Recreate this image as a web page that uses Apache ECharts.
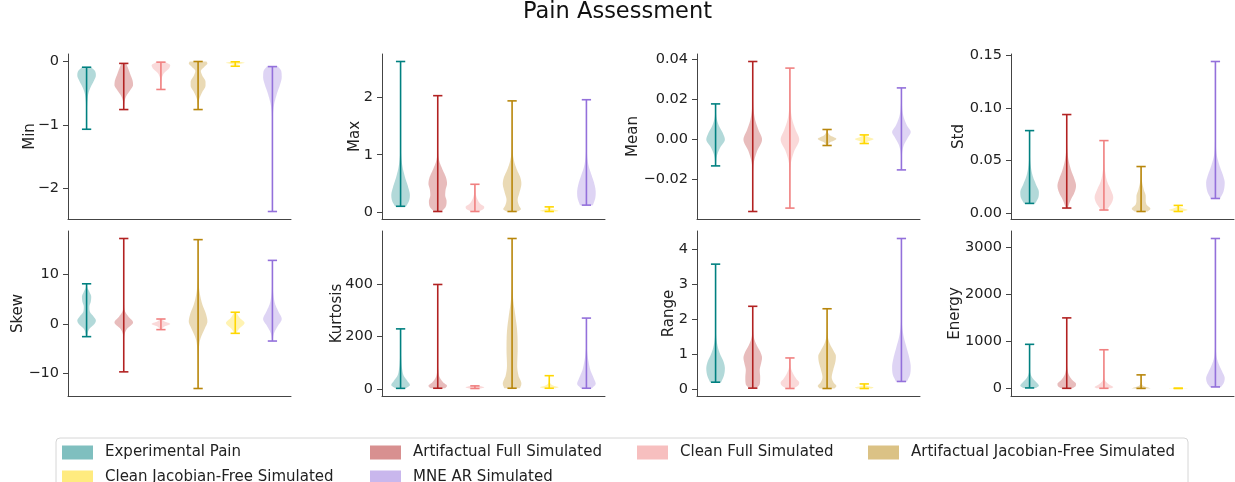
<!DOCTYPE html>
<html><head><meta charset="utf-8">
<script src="https://cdn.jsdelivr.net/npm/echarts@6/dist/echarts.min.js"></script>
<style>html,body{margin:0;padding:0;background:#fff}#c{width:1235px;height:482px}</style>
</head><body><div id="c"></div>
<script>
// ---------- DATA ----------
const groupNames = ['Experimental Pain','Artifactual Full Simulated','Clean Full Simulated',
  'Artifactual Jacobian-Free Simulated','Clean Jacobian-Free Simulated','MNE AR Simulated'];
const metricNames = ['Min','Max','Mean','Std','Skew','Kurtosis','Range','Energy'];

const minTicks = [-2,-1,0];
const maxTicks = [0,1,2];
const meanTicks = [-0.02,0,0.02,0.04];
const stdTicks = [0,0.05,0.10,0.15];
const skewTicks = [-10,0,10];
const kurtosisTicks = [0,200,400];
const rangeTicks = [0,1,2,3,4];
const energyTicks = [0,1000,2000,3000];

// each violin: [value, relative density (1 = widest)], from its min to its max
const minViolins = [
  [[-1.066,0.01],[-0.8,0.03],[-0.6,0.1],[-0.5,0.2],[-0.4,0.45],[-0.3,0.8],[-0.22,1.0],[-0.15,0.9],[-0.09,0.5]],
  [[-0.756,0.01],[-0.65,0.05],[-0.55,0.25],[-0.45,0.7],[-0.37,1.0],[-0.3,0.95],[-0.2,0.7],[-0.1,0.45],[-0.03,0.25]],
  [[-0.44,0.01],[-0.35,0.04],[-0.25,0.12],[-0.18,0.35],[-0.12,0.8],[-0.06,1.0],[-0.01,0.5]],
  [[-0.756,0.01],[-0.66,0.04],[-0.58,0.15],[-0.48,0.45],[-0.38,0.8],[-0.32,0.8],[-0.22,0.45],[-0.15,0.3],[-0.08,0.7],[-0.03,1.0],[0,0.9]],
  [[-0.074,0.03],[-0.05,0.2],[-0.035,0.6],[-0.02,1.0],[-0.005,0.5]],
  [[-2.36,0.005],[-1.3,0.01],[-0.9,0.04],[-0.7,0.15],[-0.5,0.5],[-0.35,0.85],[-0.25,1.0],[-0.15,0.95],[-0.08,0.6]]
];
const maxViolins = [
  [[0.11,0.6],[0.2,0.9],[0.3,1.0],[0.45,0.8],[0.6,0.5],[0.8,0.2],[1.0,0.06],[1.3,0.02],[2.61,0.005]],
  [[0.02,0.4],[0.1,0.85],[0.2,0.95],[0.3,0.8],[0.4,0.85],[0.5,1.0],[0.6,0.9],[0.75,0.5],[0.9,0.15],[1.1,0.03],[2.02,0.005]],
  [[0.02,0.4],[0.06,0.9],[0.1,1.0],[0.15,0.6],[0.22,0.3],[0.3,0.12],[0.4,0.05],[0.49,0.02]],
  [[0.02,0.6],[0.06,0.95],[0.12,0.75],[0.22,0.6],[0.35,0.8],[0.5,1.0],[0.6,0.9],[0.75,0.5],[0.9,0.2],[1.1,0.05],[1.93,0.005]],
  [[0.02,0.7],[0.03,1.0],[0.05,0.6],[0.07,0.2],[0.1,0.05]],
  [[0.13,0.7],[0.25,0.95],[0.35,1.0],[0.5,0.85],[0.65,0.55],[0.8,0.25],[1.0,0.07],[1.3,0.02],[1.95,0.005]]
];
const meanViolins = [
  [[-0.0132,0.02],[-0.008,0.15],[-0.004,0.5],[0,1.0],[0.003,0.8],[0.007,0.35],[0.011,0.1],[0.0178,0.01]],
  [[-0.036,0.005],[-0.02,0.02],[-0.012,0.1],[-0.006,0.45],[0,1.0],[0.005,0.6],[0.01,0.25],[0.016,0.07],[0.025,0.02],[0.039,0.005]],
  [[-0.0343,0.005],[-0.02,0.02],[-0.012,0.1],[-0.006,0.45],[0,1.0],[0.005,0.6],[0.01,0.25],[0.016,0.07],[0.025,0.02],[0.0357,0.005]],
  [[-0.003,0.05],[-0.0015,0.3],[0.0003,1.0],[0.002,0.35],[0.0035,0.1],[0.005,0.02]],
  [[-0.002,0.1],[-0.001,0.4],[0.0002,1.0],[0.0012,0.45],[0.0023,0.1]],
  [[-0.0152,0.01],[-0.008,0.05],[-0.003,0.25],[0.001,0.7],[0.0037,1.0],[0.007,0.6],[0.012,0.2],[0.018,0.05],[0.0258,0.01]]
];
const stdViolins = [
  [[0.0092,0.6],[0.015,0.95],[0.02,1.0],[0.027,0.7],[0.035,0.35],[0.045,0.12],[0.055,0.04],[0.0785,0.005]],
  [[0.0048,0.1],[0.012,0.4],[0.02,0.85],[0.026,1.0],[0.033,0.8],[0.04,0.5],[0.05,0.2],[0.06,0.06],[0.075,0.02],[0.0938,0.005]],
  [[0.0029,0.3],[0.01,0.85],[0.015,1.0],[0.022,0.75],[0.03,0.35],[0.04,0.12],[0.05,0.04],[0.069,0.005]],
  [[0.0015,0.7],[0.004,1.0],[0.008,0.6],[0.012,0.5],[0.016,0.5],[0.022,0.3],[0.03,0.1],[0.0443,0.01]],
  [[0.0015,0.5],[0.003,1.0],[0.0045,0.5],[0.006,0.15],[0.0073,0.03]],
  [[0.0139,0.5],[0.02,0.85],[0.029,1.0],[0.035,0.85],[0.045,0.45],[0.055,0.15],[0.07,0.04],[0.09,0.01],[0.1443,0.003]]
];
const skewViolins = [
  [[-2.57,0.03],[-1,0.3],[0,0.85],[0.7,1.0],[1.5,0.75],[2.5,0.35],[3.5,0.3],[4.5,0.45],[5.5,0.5],[6.5,0.3],[7.3,0.1],[8.13,0.02]],
  [[-9.7,0.003],[-4,0.01],[-2,0.1],[-1,0.35],[0.3,1.0],[1.5,0.5],[2.5,0.15],[4,0.03],[8,0.005],[17.3,0.002]],
  [[-1.15,0.05],[-0.5,0.4],[0,1.0],[0.5,0.4],[1.0,0.05]],
  [[-13.07,0.005],[-8,0.02],[-5,0.08],[-3,0.25],[-1,0.7],[0.5,1.0],[2,0.85],[4,0.45],[6,0.2],[8,0.07],[11,0.02],[17.07,0.003]],
  [[-1.9,0.1],[-1,0.4],[0.2,1.0],[1.2,0.5],[2.37,0.1]],
  [[-3.46,0.03],[-2,0.15],[-0.5,0.55],[1,1.0],[2.5,0.65],[4,0.3],[6,0.1],[8,0.04],[12.87,0.005]]
];
const kurtosisViolins = [
  [[2.5,0.55],[15,1.0],[30,0.75],[50,0.35],[80,0.15],[120,0.06],[160,0.02],[229,0.005]],
  [[3,0.8],[12,1.0],[25,0.6],[45,0.2],[70,0.06],[120,0.01],[398,0.002]],
  [[2,0.6],[6,1.0],[12,0.5]],
  [[3,0.85],[20,1.0],[50,0.7],[90,0.55],[150,0.6],[220,0.55],[280,0.35],[330,0.15],[380,0.04],[450,0.01],[573,0.003]],
  [[3,0.7],[7,1.0],[12,0.5],[20,0.15],[35,0.03],[50.8,0.01]],
  [[3,0.6],[20,1.0],[40,0.8],[70,0.45],[100,0.25],[140,0.08],[180,0.02],[270,0.005]]
];
const rangeViolins = [
  [[0.21,0.6],[0.4,0.9],[0.6,1.0],[0.8,0.85],[1.0,0.5],[1.2,0.25],[1.5,0.07],[2.0,0.02],[3.57,0.005]],
  [[0.04,0.4],[0.15,0.75],[0.35,0.8],[0.55,0.75],[0.75,0.9],[0.9,1.0],[1.05,0.85],[1.25,0.45],[1.45,0.15],[1.7,0.04],[2.37,0.005]],
  [[0.03,0.4],[0.12,0.9],[0.2,1.0],[0.3,0.7],[0.45,0.35],[0.6,0.12],[0.9,0.02]],
  [[0.03,0.8],[0.1,1.0],[0.2,0.7],[0.35,0.5],[0.55,0.65],[0.8,0.9],[0.95,0.95],[1.1,0.7],[1.3,0.3],[1.5,0.08],[1.8,0.02],[2.3,0.005]],
  [[0.03,0.8],[0.06,1.0],[0.09,0.5],[0.12,0.15],[0.16,0.03]],
  [[0.23,0.6],[0.45,0.95],[0.65,1.0],[0.9,0.85],[1.2,0.55],[1.5,0.25],[1.8,0.08],[2.3,0.02],[4.3,0.003]]
];
const energyViolins = [
  [[13,0.7],[60,1.0],[120,0.8],[200,0.4],[300,0.12],[450,0.03],[938,0.005]],
  [[5,0.6],[50,0.95],[100,1.0],[180,0.6],[280,0.25],[400,0.08],[600,0.02],[1499,0.003]],
  [[5,0.8],[30,1.0],[80,0.6],[150,0.2],[250,0.05],[823,0.003]],
  [[3,1.0],[20,0.8],[50,0.3],[100,0.08],[200,0.02],[290,0.005]],
  [[1,0.8],[4,1.0],[8,0.5]],
  [[34,0.6],[120,0.9],[220,1.0],[350,0.75],[500,0.4],[650,0.15],[900,0.04],[1300,0.01],[3183,0.002]]
];

// ---------- STYLE / LAYOUT ----------
const lineColors = ['#008080','#b22222','#f08080','#b8860b','#ffd700','#9370db'];
const allViolins = [minViolins,maxViolins,meanViolins,stdViolins,skewViolins,kurtosisViolins,rangeViolins,energyViolins];
const allTicks = [minTicks,maxTicks,meanTicks,stdTicks,skewTicks,kurtosisTicks,rangeTicks,energyTicks];
const tickDecimals = [0,0,2,2,0,0,0,0];
const gridLefts = [68,382,697,1011];
const gridTops = [54,231];
const gridW = 223, gridH = 165;
const nameGaps = [30,19,56,44,42,37,20,48];
// legend slots (column-major like the reference): [left, top] per group
const legendLefts = [62,370,637,868,62,370];
const legendTops = [445,445,445,445,470,470];
const FONT = 'DejaVu Sans';

function rgba(hex,a){const n=parseInt(hex.slice(1),16);return `rgba(${n>>16&255},${n>>8&255},${n&255},${a})`;}
function fmt(v,d){const s=Math.abs(v).toFixed(d);return (v<-1e-12?'\u2212':'')+s;}

// monotone cubic (Fritsch-Carlson) for drawing a smooth outline through the estimated points
function monotone(xs,ys){
  const n=xs.length, d=[], m=new Array(n).fill(0);
  for(let i=0;i<n-1;i++) d.push((ys[i+1]-ys[i])/(xs[i+1]-xs[i]));
  m[0]=d[0]; m[n-1]=d[n-2];
  for(let i=1;i<n-1;i++) m[i]=(d[i-1]*d[i]<=0)?0:(d[i-1]+d[i])/2;
  for(let i=0;i<n-1;i++){
    if(d[i]===0){m[i]=0;m[i+1]=0;continue;}
    const a=m[i]/d[i], b=m[i+1]/d[i], s=a*a+b*b;
    if(s>9){const t=3/Math.sqrt(s);m[i]=t*a*d[i];m[i+1]=t*b*d[i];}
  }
  return function(x,i){
    const h=xs[i+1]-xs[i], t=(x-xs[i])/h, t2=t*t, t3=t2*t;
    return (2*t3-3*t2+1)*ys[i]+(t3-2*t2+t)*h*m[i]+(-2*t3+3*t2)*ys[i+1]+(t3-t2)*h*m[i+1];
  };
}

const grids=[], xAxes=[], yAxes=[], series=[];
allViolins.forEach((violins,p)=>{
  const row=Math.floor(p/4), col=p%4;
  grids.push({left:gridLefts[col], top:gridTops[row], width:gridW, height:gridH, outerBoundsMode:'none'});
  let lo=Infinity, hi=-Infinity;
  violins.forEach(v=>{lo=Math.min(lo,v[0][0]);hi=Math.max(hi,v[v.length-1][0]);});
  const pad=(hi-lo)*0.05;
  xAxes.push({gridIndex:p,type:'value',min:0.5,max:6.5,
    axisLine:{show:true,onZero:false,lineStyle:{color:'#444',width:1}},
    axisTick:{show:false},axisLabel:{show:false},splitLine:{show:false}});
  const ticks=allTicks[p], dec=tickDecimals[p];
  yAxes.push({gridIndex:p,type:'value',min:lo-pad,max:hi+pad,
    name:metricNames[p],nameLocation:'middle',nameGap:nameGaps[p],nameMoveOverlap:false,
    nameTextStyle:{fontFamily:FONT,fontSize:15,color:'#222'},
    axisLine:{show:true,lineStyle:{color:'#444',width:1}},
    axisTick:{show:true,length:5,customValues:ticks,lineStyle:{color:'#444',width:1}},
    axisLabel:{show:true,customValues:ticks,margin:9,fontFamily:FONT,fontSize:14.5,color:'#222',
      formatter:v=>fmt(v,dec)},
    splitLine:{show:false}});
  violins.forEach((prof,g)=>{
    const vmin=prof[0][0], vmax=prof[prof.length-1][0];
    const xs=prof.map(q=>q[0]), ws=prof.map(q=>q[1]);
    const f=monotone(xs,ws);
    series.push({
      type:'custom', name:groupNames[g], xAxisIndex:p, yAxisIndex:p,
      data:[[g+1,vmin,vmax]], silent:true, clip:false,
      encode:{x:0,y:[1,2]},
      renderItem:(params,api)=>{
        const pos=api.value(0);
        const right=[], left=[];
        for(let i=0;i<xs.length-1;i++){
          const steps=16;
          for(let k=0;k<steps;k++){
            const v=xs[i]+(xs[i+1]-xs[i])*k/steps;
            const w=Math.max(0,f(v,i));
            right.push(api.coord([pos+0.25*w,v]));
            left.push(api.coord([pos-0.25*w,v]));
          }
        }
        right.push(api.coord([pos+0.25*ws[ws.length-1],vmax]));
        left.push(api.coord([pos-0.25*ws[ws.length-1],vmax]));
        const pts=right.concat(left.reverse());
        const c=lineColors[g];
        const a=api.coord([pos,vmin]), b=api.coord([pos,vmax]);
        const cl=api.coord([pos-0.125,vmin]), cr=api.coord([pos+0.125,vmin]);
        const tl=api.coord([pos-0.125,vmax]), tr=api.coord([pos+0.125,vmax]);
        const ls={stroke:c,lineWidth:1.6};
        return {type:'group',children:[
          {type:'polygon',shape:{points:pts},style:{fill:rgba(c,0.3),stroke:null}},
          {type:'line',shape:{x1:a[0],y1:a[1],x2:b[0],y2:b[1]},style:ls},
          {type:'line',shape:{x1:cl[0],y1:cl[1],x2:cr[0],y2:cr[1]},style:ls},
          {type:'line',shape:{x1:tl[0],y1:tl[1],x2:tr[0],y2:tr[1]},style:ls}
        ]};
      }
    });
  });
});

const legends = groupNames.map((name,i)=>({
  left:legendLefts[i],top:legendTops[i],orient:'horizontal',padding:0,itemWidth:31,itemHeight:14,
  selectedMode:false,icon:'rect',
  textStyle:{fontFamily:FONT,fontSize:15,color:'#222',padding:[0,0,0,7]},
  data:[{name:name,icon:'rect',itemStyle:{color:rgba(lineColors[i],0.5),borderWidth:0}}]
}));

const chart=echarts.init(document.getElementById('c'),null,{renderer:'canvas'});
chart.setOption({
  animation:false,
  backgroundColor:'#fff',
  title:{text:'Pain Assessment',left:'center',top:1,padding:0,
    textStyle:{fontFamily:FONT,fontSize:22.5,fontWeight:'normal',color:'#111'}},
  graphic:[{type:'rect',z:0,shape:{x:56,y:438,width:1132,height:60,r:4},
    style:{fill:'#fff',stroke:'#d6d6d6',lineWidth:1}}],
  legend:legends,
  grid:grids, xAxis:xAxes, yAxis:yAxes, series:series
});
</script></body></html>
